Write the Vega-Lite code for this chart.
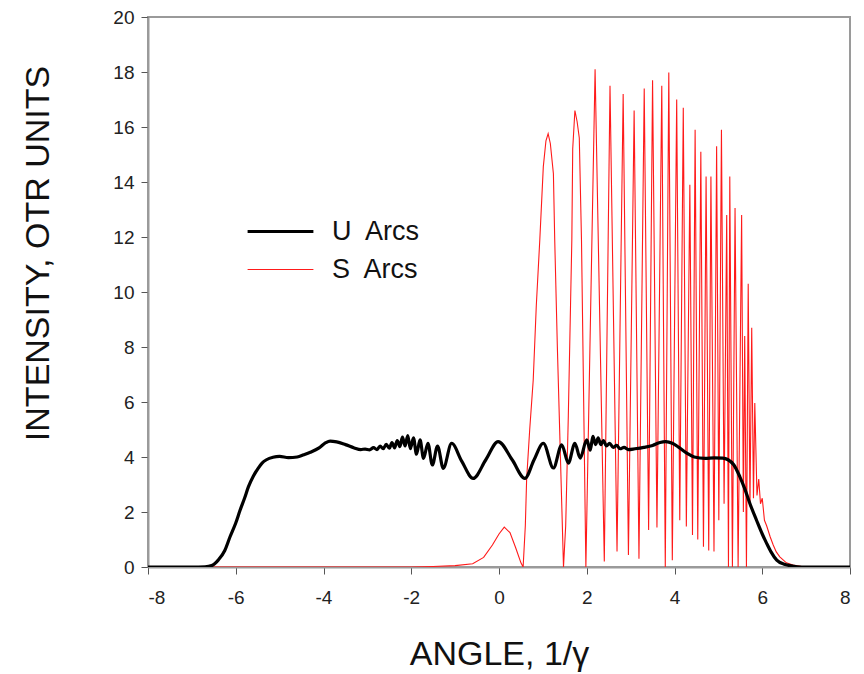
{
  "$schema": "https://vega.github.io/schema/vega-lite/v6.json",
  "width": 702,
  "height": 550,
  "autosize": {"type": "none"},
  "padding": {"left": 148, "top": 17, "right": 14, "bottom": 107},
  "background": "white",
  "config": {
    "font": "Liberation Sans",
    "view": {"stroke": "#9a9a9a", "strokeWidth": 2},
    "axis": {
      "grid": false,
      "domainColor": "#9a9a9a",
      "domainWidth": 2,
      "tickColor": "#555",
      "tickSize": 7,
      "labelFont": "Liberation Sans",
      "labelFontSize": 19,
      "labelColor": "#222",
      "labelExpr": "replace(datum.label, '\u2212', '-')",
      "titleFont": "Liberation Sans",
      "titleFontSize": 34,
      "titleFontWeight": "normal",
      "titleColor": "#111"
    }
  },
  "data": {
    "values": [
      {"x": -8, "y": 0, "series": "U\u00a0 Arcs"},
      {"x": -7, "y": 0, "series": "U\u00a0 Arcs"},
      {"x": -6.7, "y": 0.01, "series": "U\u00a0 Arcs"},
      {"x": -6.55, "y": 0.05, "series": "U\u00a0 Arcs"},
      {"x": -6.4, "y": 0.25, "series": "U\u00a0 Arcs"},
      {"x": -6.25, "y": 0.6, "series": "U\u00a0 Arcs"},
      {"x": -6.13, "y": 1.1, "series": "U\u00a0 Arcs"},
      {"x": -6.0, "y": 1.6, "series": "U\u00a0 Arcs"},
      {"x": -5.9, "y": 2.07, "series": "U\u00a0 Arcs"},
      {"x": -5.8, "y": 2.5, "series": "U\u00a0 Arcs"},
      {"x": -5.71, "y": 2.92, "series": "U\u00a0 Arcs"},
      {"x": -5.6, "y": 3.3, "series": "U\u00a0 Arcs"},
      {"x": -5.49, "y": 3.59, "series": "U\u00a0 Arcs"},
      {"x": -5.4, "y": 3.78, "series": "U\u00a0 Arcs"},
      {"x": -5.3, "y": 3.9, "series": "U\u00a0 Arcs"},
      {"x": -5.15, "y": 3.99, "series": "U\u00a0 Arcs"},
      {"x": -5.0, "y": 4.02, "series": "U\u00a0 Arcs"},
      {"x": -4.8, "y": 3.98, "series": "U\u00a0 Arcs"},
      {"x": -4.6, "y": 4.0, "series": "U\u00a0 Arcs"},
      {"x": -4.45, "y": 4.08, "series": "U\u00a0 Arcs"},
      {"x": -4.3, "y": 4.17, "series": "U\u00a0 Arcs"},
      {"x": -4.1, "y": 4.33, "series": "U\u00a0 Arcs"},
      {"x": -3.95, "y": 4.52, "series": "U\u00a0 Arcs"},
      {"x": -3.85, "y": 4.58, "series": "U\u00a0 Arcs"},
      {"x": -3.7, "y": 4.55, "series": "U\u00a0 Arcs"},
      {"x": -3.5, "y": 4.45, "series": "U\u00a0 Arcs"},
      {"x": -3.3, "y": 4.33, "series": "U\u00a0 Arcs"},
      {"x": -3.15, "y": 4.27, "series": "U\u00a0 Arcs"},
      {"x": -3.05, "y": 4.29, "series": "U\u00a0 Arcs"},
      {"x": -2.95, "y": 4.26, "series": "U\u00a0 Arcs"},
      {"x": -2.86, "y": 4.34, "series": "U\u00a0 Arcs"},
      {"x": -2.78, "y": 4.27, "series": "U\u00a0 Arcs"},
      {"x": -2.71, "y": 4.4, "series": "U\u00a0 Arcs"},
      {"x": -2.64, "y": 4.3, "series": "U\u00a0 Arcs"},
      {"x": -2.57, "y": 4.46, "series": "U\u00a0 Arcs"},
      {"x": -2.5, "y": 4.32, "series": "U\u00a0 Arcs"},
      {"x": -2.44, "y": 4.52, "series": "U\u00a0 Arcs"},
      {"x": -2.38, "y": 4.33, "series": "U\u00a0 Arcs"},
      {"x": -2.32, "y": 4.6, "series": "U\u00a0 Arcs"},
      {"x": -2.26, "y": 4.38, "series": "U\u00a0 Arcs"},
      {"x": -2.2, "y": 4.72, "series": "U\u00a0 Arcs"},
      {"x": -2.14, "y": 4.4, "series": "U\u00a0 Arcs"},
      {"x": -2.08, "y": 4.78, "series": "U\u00a0 Arcs"},
      {"x": -2.02, "y": 4.3, "series": "U\u00a0 Arcs"},
      {"x": -1.95, "y": 4.7, "series": "U\u00a0 Arcs"},
      {"x": -1.88, "y": 4.1, "series": "U\u00a0 Arcs"},
      {"x": -1.8, "y": 4.62, "series": "U\u00a0 Arcs"},
      {"x": -1.72, "y": 3.95, "series": "U\u00a0 Arcs"},
      {"x": -1.62, "y": 4.5, "series": "U\u00a0 Arcs"},
      {"x": -1.52, "y": 3.71, "series": "U\u00a0 Arcs"},
      {"x": -1.4, "y": 4.4, "series": "U\u00a0 Arcs"},
      {"x": -1.27, "y": 3.59, "series": "U\u00a0 Arcs"},
      {"x": -1.08, "y": 4.5, "series": "U\u00a0 Arcs"},
      {"x": -0.85, "y": 3.85, "series": "U\u00a0 Arcs"},
      {"x": -0.59, "y": 3.22, "series": "U\u00a0 Arcs"},
      {"x": -0.3, "y": 3.9, "series": "U\u00a0 Arcs"},
      {"x": -0.02, "y": 4.56, "series": "U\u00a0 Arcs"},
      {"x": 0.3, "y": 3.9, "series": "U\u00a0 Arcs"},
      {"x": 0.59, "y": 3.22, "series": "U\u00a0 Arcs"},
      {"x": 0.8, "y": 3.9, "series": "U\u00a0 Arcs"},
      {"x": 1.01, "y": 4.5, "series": "U\u00a0 Arcs"},
      {"x": 1.24, "y": 3.6, "series": "U\u00a0 Arcs"},
      {"x": 1.43, "y": 4.44, "series": "U\u00a0 Arcs"},
      {"x": 1.58, "y": 3.78, "series": "U\u00a0 Arcs"},
      {"x": 1.73, "y": 4.5, "series": "U\u00a0 Arcs"},
      {"x": 1.85, "y": 3.96, "series": "U\u00a0 Arcs"},
      {"x": 2.0, "y": 4.62, "series": "U\u00a0 Arcs"},
      {"x": 2.08, "y": 4.25, "series": "U\u00a0 Arcs"},
      {"x": 2.14, "y": 4.75, "series": "U\u00a0 Arcs"},
      {"x": 2.2, "y": 4.45, "series": "U\u00a0 Arcs"},
      {"x": 2.26, "y": 4.7, "series": "U\u00a0 Arcs"},
      {"x": 2.32, "y": 4.45, "series": "U\u00a0 Arcs"},
      {"x": 2.38, "y": 4.6, "series": "U\u00a0 Arcs"},
      {"x": 2.45, "y": 4.4, "series": "U\u00a0 Arcs"},
      {"x": 2.52, "y": 4.5, "series": "U\u00a0 Arcs"},
      {"x": 2.6, "y": 4.35, "series": "U\u00a0 Arcs"},
      {"x": 2.68, "y": 4.42, "series": "U\u00a0 Arcs"},
      {"x": 2.76, "y": 4.3, "series": "U\u00a0 Arcs"},
      {"x": 2.85, "y": 4.35, "series": "U\u00a0 Arcs"},
      {"x": 2.95, "y": 4.27, "series": "U\u00a0 Arcs"},
      {"x": 3.1, "y": 4.3, "series": "U\u00a0 Arcs"},
      {"x": 3.3, "y": 4.35, "series": "U\u00a0 Arcs"},
      {"x": 3.5, "y": 4.42, "series": "U\u00a0 Arcs"},
      {"x": 3.67, "y": 4.53, "series": "U\u00a0 Arcs"},
      {"x": 3.8, "y": 4.56, "series": "U\u00a0 Arcs"},
      {"x": 3.95, "y": 4.5, "series": "U\u00a0 Arcs"},
      {"x": 4.1, "y": 4.35, "series": "U\u00a0 Arcs"},
      {"x": 4.3, "y": 4.12, "series": "U\u00a0 Arcs"},
      {"x": 4.45, "y": 4.0, "series": "U\u00a0 Arcs"},
      {"x": 4.7, "y": 3.95, "series": "U\u00a0 Arcs"},
      {"x": 4.9, "y": 3.97, "series": "U\u00a0 Arcs"},
      {"x": 5.1, "y": 3.96, "series": "U\u00a0 Arcs"},
      {"x": 5.22, "y": 3.9, "series": "U\u00a0 Arcs"},
      {"x": 5.35, "y": 3.72, "series": "U\u00a0 Arcs"},
      {"x": 5.49, "y": 3.28, "series": "U\u00a0 Arcs"},
      {"x": 5.6, "y": 2.85, "series": "U\u00a0 Arcs"},
      {"x": 5.72, "y": 2.3, "series": "U\u00a0 Arcs"},
      {"x": 5.87, "y": 1.7, "series": "U\u00a0 Arcs"},
      {"x": 6.0, "y": 1.2, "series": "U\u00a0 Arcs"},
      {"x": 6.1, "y": 0.86, "series": "U\u00a0 Arcs"},
      {"x": 6.2, "y": 0.55, "series": "U\u00a0 Arcs"},
      {"x": 6.33, "y": 0.25, "series": "U\u00a0 Arcs"},
      {"x": 6.5, "y": 0.1, "series": "U\u00a0 Arcs"},
      {"x": 6.63, "y": 0.05, "series": "U\u00a0 Arcs"},
      {"x": 6.8, "y": 0.01, "series": "U\u00a0 Arcs"},
      {"x": 7.0, "y": 0, "series": "U\u00a0 Arcs"},
      {"x": 8.0, "y": 0, "series": "U\u00a0 Arcs"},

      {"x": -8, "y": 0, "series": "S\u00a0 Arcs"},
      {"x": -2, "y": 0, "series": "S\u00a0 Arcs"},
      {"x": -1.5, "y": 0.02, "series": "S\u00a0 Arcs"},
      {"x": -1.0, "y": 0.05, "series": "S\u00a0 Arcs"},
      {"x": -0.6, "y": 0.12, "series": "S\u00a0 Arcs"},
      {"x": -0.35, "y": 0.35, "series": "S\u00a0 Arcs"},
      {"x": -0.15, "y": 0.8, "series": "S\u00a0 Arcs"},
      {"x": 0.0, "y": 1.2, "series": "S\u00a0 Arcs"},
      {"x": 0.12, "y": 1.45, "series": "S\u00a0 Arcs"},
      {"x": 0.25, "y": 1.25, "series": "S\u00a0 Arcs"},
      {"x": 0.38, "y": 0.7, "series": "S\u00a0 Arcs"},
      {"x": 0.5, "y": 0.15, "series": "S\u00a0 Arcs"},
      {"x": 0.55, "y": 0, "series": "S\u00a0 Arcs"},
      {"x": 0.6, "y": 1.5, "series": "S\u00a0 Arcs"},
      {"x": 0.63, "y": 3.2, "series": "S\u00a0 Arcs"},
      {"x": 0.7, "y": 5, "series": "S\u00a0 Arcs"},
      {"x": 0.78, "y": 6.8, "series": "S\u00a0 Arcs"},
      {"x": 0.85, "y": 9.5, "series": "S\u00a0 Arcs"},
      {"x": 0.93, "y": 11.9, "series": "S\u00a0 Arcs"},
      {"x": 1.01, "y": 14.56, "series": "S\u00a0 Arcs"},
      {"x": 1.07, "y": 15.5, "series": "S\u00a0 Arcs"},
      {"x": 1.12, "y": 15.76, "series": "S\u00a0 Arcs"},
      {"x": 1.17, "y": 15.4, "series": "S\u00a0 Arcs"},
      {"x": 1.24, "y": 14.3, "series": "S\u00a0 Arcs"},
      {"x": 1.27, "y": 11.9, "series": "S\u00a0 Arcs"},
      {"x": 1.33, "y": 8, "series": "S\u00a0 Arcs"},
      {"x": 1.4, "y": 4, "series": "S\u00a0 Arcs"},
      {"x": 1.47, "y": 0, "series": "S\u00a0 Arcs"},
      {"x": 1.52, "y": 1.5, "series": "S\u00a0 Arcs"},
      {"x": 1.58, "y": 5.5, "series": "S\u00a0 Arcs"},
      {"x": 1.63, "y": 9.5, "series": "S\u00a0 Arcs"},
      {"x": 1.66, "y": 11.9, "series": "S\u00a0 Arcs"},
      {"x": 1.68, "y": 15.2, "series": "S\u00a0 Arcs"},
      {"x": 1.73, "y": 16.6, "series": "S\u00a0 Arcs"},
      {"x": 1.78, "y": 16.2, "series": "S\u00a0 Arcs"},
      {"x": 1.83, "y": 15.6, "series": "S\u00a0 Arcs"},
      {"x": 1.88, "y": 11.9, "series": "S\u00a0 Arcs"},
      {"x": 1.93, "y": 6, "series": "S\u00a0 Arcs"},
      {"x": 1.98, "y": 0, "series": "S\u00a0 Arcs"},
      {"x": 2.19, "y": 18.1, "series": "S\u00a0 Arcs"},
      {"x": 2.4, "y": 0.2, "series": "S\u00a0 Arcs"},
      {"x": 2.53, "y": 17.5, "series": "S\u00a0 Arcs"},
      {"x": 2.69, "y": 0.56, "series": "S\u00a0 Arcs"},
      {"x": 2.83, "y": 17.2, "series": "S\u00a0 Arcs"},
      {"x": 2.95, "y": 0.44, "series": "S\u00a0 Arcs"},
      {"x": 3.08, "y": 16.6, "series": "S\u00a0 Arcs"},
      {"x": 3.19, "y": 0.3, "series": "S\u00a0 Arcs"},
      {"x": 3.31, "y": 17.4, "series": "S\u00a0 Arcs"},
      {"x": 3.41, "y": 1.35, "series": "S\u00a0 Arcs"},
      {"x": 3.5, "y": 17.7, "series": "S\u00a0 Arcs"},
      {"x": 3.6, "y": 1.44, "series": "S\u00a0 Arcs"},
      {"x": 3.71, "y": 17.5, "series": "S\u00a0 Arcs"},
      {"x": 3.79, "y": 0, "series": "S\u00a0 Arcs"},
      {"x": 3.87, "y": 17.98, "series": "S\u00a0 Arcs"},
      {"x": 3.95, "y": 0.25, "series": "S\u00a0 Arcs"},
      {"x": 4.05, "y": 17.0, "series": "S\u00a0 Arcs"},
      {"x": 4.12, "y": 1.7, "series": "S\u00a0 Arcs"},
      {"x": 4.2, "y": 16.7, "series": "S\u00a0 Arcs"},
      {"x": 4.27, "y": 1.47, "series": "S\u00a0 Arcs"},
      {"x": 4.35, "y": 13.9, "series": "S\u00a0 Arcs"},
      {"x": 4.41, "y": 1.16, "series": "S\u00a0 Arcs"},
      {"x": 4.47, "y": 15.9, "series": "S\u00a0 Arcs"},
      {"x": 4.53, "y": 1.0, "series": "S\u00a0 Arcs"},
      {"x": 4.6, "y": 15.1, "series": "S\u00a0 Arcs"},
      {"x": 4.66, "y": 0.74, "series": "S\u00a0 Arcs"},
      {"x": 4.72, "y": 14.2, "series": "S\u00a0 Arcs"},
      {"x": 4.78, "y": 0.6, "series": "S\u00a0 Arcs"},
      {"x": 4.83, "y": 14.2, "series": "S\u00a0 Arcs"},
      {"x": 4.9, "y": 0.56, "series": "S\u00a0 Arcs"},
      {"x": 4.96, "y": 15.3, "series": "S\u00a0 Arcs"},
      {"x": 5.01, "y": 1.7, "series": "S\u00a0 Arcs"},
      {"x": 5.07, "y": 15.9, "series": "S\u00a0 Arcs"},
      {"x": 5.13, "y": 2.3, "series": "S\u00a0 Arcs"},
      {"x": 5.19, "y": 12.8, "series": "S\u00a0 Arcs"},
      {"x": 5.23, "y": 0, "series": "S\u00a0 Arcs"},
      {"x": 5.26, "y": 14.2, "series": "S\u00a0 Arcs"},
      {"x": 5.32, "y": 0, "series": "S\u00a0 Arcs"},
      {"x": 5.38, "y": 13.05, "series": "S\u00a0 Arcs"},
      {"x": 5.45, "y": 0, "series": "S\u00a0 Arcs"},
      {"x": 5.53, "y": 12.8, "series": "S\u00a0 Arcs"},
      {"x": 5.57, "y": 2.0, "series": "S\u00a0 Arcs"},
      {"x": 5.6, "y": 8.4, "series": "S\u00a0 Arcs"},
      {"x": 5.64, "y": 0, "series": "S\u00a0 Arcs"},
      {"x": 5.68, "y": 10.3, "series": "S\u00a0 Arcs"},
      {"x": 5.72, "y": 2.2, "series": "S\u00a0 Arcs"},
      {"x": 5.76, "y": 8.7, "series": "S\u00a0 Arcs"},
      {"x": 5.8, "y": 2.5, "series": "S\u00a0 Arcs"},
      {"x": 5.83, "y": 5.96, "series": "S\u00a0 Arcs"},
      {"x": 5.88, "y": 2.6, "series": "S\u00a0 Arcs"},
      {"x": 5.92, "y": 3.2, "series": "S\u00a0 Arcs"},
      {"x": 5.96, "y": 2.3, "series": "S\u00a0 Arcs"},
      {"x": 6.0, "y": 2.5, "series": "S\u00a0 Arcs"},
      {"x": 6.05, "y": 1.7, "series": "S\u00a0 Arcs"},
      {"x": 6.1, "y": 1.5, "series": "S\u00a0 Arcs"},
      {"x": 6.18, "y": 1.1, "series": "S\u00a0 Arcs"},
      {"x": 6.25, "y": 0.8, "series": "S\u00a0 Arcs"},
      {"x": 6.32, "y": 0.55, "series": "S\u00a0 Arcs"},
      {"x": 6.4, "y": 0.37, "series": "S\u00a0 Arcs"},
      {"x": 6.55, "y": 0.15, "series": "S\u00a0 Arcs"},
      {"x": 6.7, "y": 0.07, "series": "S\u00a0 Arcs"},
      {"x": 6.9, "y": 0.02, "series": "S\u00a0 Arcs"},
      {"x": 7.2, "y": 0, "series": "S\u00a0 Arcs"},
      {"x": 8.0, "y": 0, "series": "S\u00a0 Arcs"}
    ]
  },
  "encoding": {
    "x": {
      "field": "x", "type": "quantitative",
      "scale": {"domain": [-8, 8], "nice": false, "zero": false},
      "axis": {"values": [-8, -6, -4, -2, 0, 2, 4, 6, 8], "title": "ANGLE, 1/γ", "labelPadding": 14, "titleBaseline": "alphabetic", "titleY": 97}
    },
    "y": {
      "field": "y", "type": "quantitative",
      "scale": {"domain": [0, 20], "nice": false},
      "axis": {"values": [0, 2, 4, 6, 8, 10, 12, 14, 16, 18, 20], "title": "INTENSITY, OTR UNITS", "labelPadding": 7, "titleBaseline": "alphabetic", "titleX": -100, "titleY": 236, "titleAngle": -90, "titleAlign": "center"}
    },
    "color": {
      "field": "series", "type": "nominal",
      "scale": {"domain": ["U\u00a0 Arcs", "S\u00a0 Arcs"], "range": ["#000000", "#ff1a1a"]},
      "legend": {
        "title": null, "orient": "none", "legendX": 107, "legendY": 189,
        "symbolType": "M-1.4,0L1.4,0", "symbolSize": 2209, "labelFontSize": 27,
        "labelFont": "Liberation Sans", "labelColor": "#111", "labelOffset": 26, "rowPadding": 0
      }
    },
    "strokeWidth": {
      "field": "series", "type": "nominal",
      "scale": {"domain": ["U\u00a0 Arcs", "S\u00a0 Arcs"], "range": [3.2, 1.1]},
      "legend": {
        "title": null, "orient": "none", "legendX": 107, "legendY": 189,
        "symbolType": "M-1.4,0L1.4,0", "symbolSize": 2209, "labelFontSize": 27,
        "labelFont": "Liberation Sans", "labelColor": "#111", "labelOffset": 26, "rowPadding": 0
      }
    }
  },
  "layer": [
    {
      "transform": [{"filter": "datum.series === 'S\u00a0 Arcs'"}],
      "mark": {"type": "line", "interpolate": "linear", "clip": true}
    },
    {
      "transform": [{"filter": "datum.series === 'U\u00a0 Arcs'"}],
      "mark": {"type": "line", "interpolate": "monotone", "clip": true}
    }
  ]
}
